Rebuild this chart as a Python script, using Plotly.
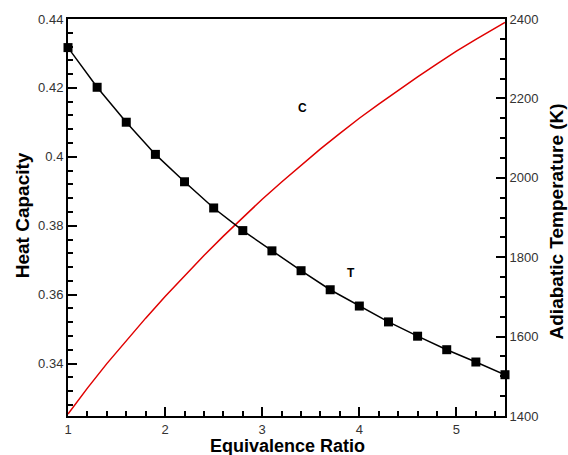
import plotly.graph_objects as go

# Black series (T, right axis) - markers at 0.3 step
t_x = [1.0, 1.3, 1.6, 1.9, 2.2, 2.5, 2.8, 3.1, 3.4, 3.7, 4.0, 4.3, 4.6, 4.9, 5.2, 5.5]
t_y = [2328, 2228, 2140, 2059, 1990, 1924, 1867, 1816, 1766, 1718, 1677, 1637, 1601, 1567, 1536, 1504]

# Red series (C, left axis)
c_x = [1.0, 1.2, 1.4, 1.6, 1.8, 2.0, 2.2, 2.4, 2.6, 2.8, 3.0, 3.2, 3.4, 3.6, 3.8,
       4.0, 4.2, 4.4, 4.6, 4.8, 5.0, 5.2, 5.4, 5.5]
c_y = [0.3254, 0.3329, 0.3400, 0.3467, 0.3532, 0.3595, 0.3656, 0.3714, 0.3770, 0.3825,
       0.3877, 0.3927, 0.3976, 0.4023, 0.4068, 0.4112, 0.4153, 0.4193, 0.4232, 0.4270,
       0.4307, 0.4341, 0.4374, 0.4390]

FONT = "Liberation Sans, Arial, sans-serif"

fig = go.Figure()
fig.add_trace(go.Scatter(x=c_x, y=c_y, mode="lines", line=dict(color="#e00000", width=1.5),
                         yaxis="y", showlegend=False))
fig.add_trace(go.Scatter(x=t_x, y=t_y, mode="lines+markers", line=dict(color="black", width=1.5),
                         marker=dict(symbol="square", size=9, color="black"),
                         yaxis="y2", showlegend=False, cliponaxis=False))

axis_common = dict(showgrid=False, zeroline=False, showline=True, linecolor="black", linewidth=2,
                   ticks="inside", tickcolor="black", tickwidth=2, ticklen=9,
                   tickfont=dict(family=FONT, size=13, color="#333333"))

fig.update_layout(
    width=568, height=455,
    margin=dict(l=68, r=63, t=17, b=39),
    paper_bgcolor="white", plot_bgcolor="white",
    xaxis=dict(range=[1, 5.5], tick0=1, dtick=1, mirror=True,
               minor=dict(dtick=0.2, tick0=1, ticks="inside", ticklen=5, tickwidth=1.5, tickcolor="black"),
               **axis_common),
    yaxis=dict(range=[0.3248, 0.44], tick0=0.34, dtick=0.02,
               minor=dict(dtick=0.004, tick0=0.34, ticks="inside", ticklen=5, tickwidth=1.5, tickcolor="black"),
               **axis_common),
    yaxis2=dict(range=[1400, 2400], tick0=1400, dtick=200, overlaying="y", side="right",
                minor=dict(dtick=50, tick0=1400, ticks="inside", ticklen=5, tickwidth=1.5, tickcolor="black"),
                **axis_common),
    annotations=[
        dict(text="<b>Heat Capacity</b>", xref="paper", yref="paper", x=-0.105, y=0.506, textangle=-90,
             showarrow=False, font=dict(family=FONT, size=19, color="black"), xanchor="center", yanchor="middle"),
        dict(text="<b>Adiabatic Temperature (K)</b>", xref="paper", yref="paper", x=1.1167, y=0.49, textangle=-90,
             showarrow=False, font=dict(family=FONT, size=19, color="black"), xanchor="center", yanchor="middle"),
        dict(text="<b>Equivalence Ratio</b>", xref="paper", yref="paper", x=0.502, y=-0.045,
             showarrow=False, font=dict(family=FONT, size=18, color="black"), xanchor="center", yanchor="top"),
        dict(text="<b>C</b>", x=3.41, y=0.4141, xref="x", yref="y", showarrow=False,
             font=dict(family=FONT, size=12, color="black")),
        dict(text="<b>T</b>", x=3.91, y=0.3664, xref="x", yref="y", showarrow=False,
             font=dict(family=FONT, size=12, color="black")),
    ],
)

fig.write_html("out.html")
